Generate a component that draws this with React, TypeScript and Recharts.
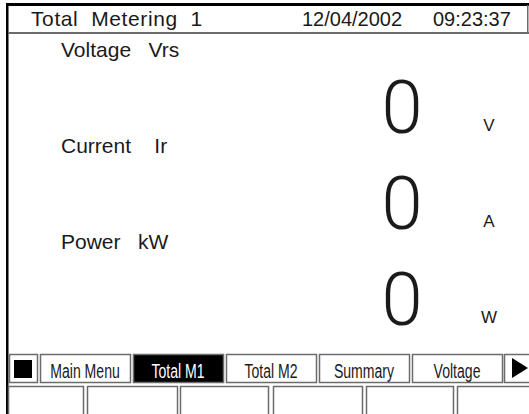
import { ComposedChart, Scatter, XAxis, YAxis } from 'recharts';

const screenTitle = 'Total  Metering  1';
const screenDate = '12/04/2002';
const screenTime = '09:23:37';

const readingNames = ['Voltage   Vrs', 'Current    Ir', 'Power   kW'];
const readingValues = [0, 0, 0];
const readingUnits = ['V', 'A', 'W'];

const menuLabels = ['Main Menu', 'Total M1', 'Total M2', 'Summary', 'Voltage'];
const activeMenu = 'Total M1';

const data = readingNames.map((name, i) => ({
  name,
  value: readingValues[i],
  unit: readingUnits[i],
}));

const W = 529;
const H = 414;
const FONT = '"Liberation Sans", Arial, sans-serif';
const LINE = '#6b6b6b';
const INK = '#1a1a1a';

// soft-key strip at the bottom of the LCD
const keyTop = 354;
const keyH = 28;
const key2Top = 386;
const keyX0 = 40;
const keyStep = 93;
const keyW = 90;
const blankEdges = [
  [8, 83],
  [87, 177],
  [180, 268],
  [273, 362],
  [366, 453],
  [457, 532],
];

// one row of the reading panel: name, big value, unit
function ReadingMark(props: any) {
  const { cy, payload } = props;
  if (cy == null || !payload) return null;
  return (
    <g fontFamily={FONT} fill={INK}>
      <text x={61} y={cy - 49} fontSize={21} style={{ whiteSpace: 'pre' }}>
        {payload.name}
      </text>
      <text
        x={402}
        y={cy + 27}
        textAnchor="middle"
        fontSize={74}
        fontFamily="Roboto, sans-serif"
        fontWeight={300}
      >
        {payload.value}
      </text>
      <text x={489} y={cy + 25} textAnchor="middle" fontSize={17}>
        {payload.unit}
      </text>
    </g>
  );
}

function KeyText({ cx, label, color }: { cx: number; label: string; color: string }) {
  return (
    <text
      transform={`translate(${cx},${keyTop + 24}) scale(0.67,1)`}
      textAnchor="middle"
      fontSize={21}
      fontFamily={FONT}
      fill={color}
    >
      {label}
    </text>
  );
}

export default function App() {
  return (
    <div style={{ position: 'absolute', left: 0, top: 0, background: '#fff' }}>
      <ComposedChart
        width={W}
        height={H}
        data={data}
        layout="vertical"
        margin={{ top: 106, right: 0, bottom: 116, left: 0 }}
      >
        <XAxis type="number" dataKey="value" domain={[0, 1]} hide />
        <YAxis type="category" dataKey="name" hide />
        <Scatter dataKey="value" shape={ReadingMark} isAnimationActive={false} />

        {/* frame */}
        <g>
          <rect x={6} y={3} width={W - 6} height={3} fill="#000" />
          <rect x={6} y={3} width={2.5} height={H - 3} fill="#000" />
          <rect x={8} y={32} width={W - 8} height={2} fill={LINE} />
          <rect x={W - 2} y={5} width={1.5} height={28} fill={LINE} />
        </g>

        {/* header */}
        <g fontFamily={FONT} fill={INK} fontSize={20}>
          <text x={31} y={26} fontSize={21} letterSpacing={0.6} style={{ whiteSpace: 'pre' }}>
            {screenTitle}
          </text>
          <text x={302} y={26}>{screenDate}</text>
          <text x={433} y={26}>{screenTime}</text>
        </g>

        {/* soft keys, row 1 */}
        <g>
          <rect x={9.5} y={keyTop + 0.5} width={28} height={keyH} fill="none" stroke={LINE} strokeWidth={1.5} />
          <rect x={14} y={360} width={18} height={18} fill="#000" />
          {menuLabels.map((label, i) => {
            const x = keyX0 + i * keyStep;
            const active = label === activeMenu;
            return (
              <g key={label}>
                <rect
                  x={x + 0.5}
                  y={keyTop + 0.5}
                  width={keyW}
                  height={keyH}
                  fill={active ? '#000' : '#fff'}
                  stroke={LINE}
                  strokeWidth={1.5}
                />
                <KeyText cx={x + keyW / 2} label={label} color={active ? '#fff' : INK} />
              </g>
            );
          })}
          <rect x={504.5} y={keyTop + 0.5} width={30} height={keyH} fill="none" stroke={LINE} strokeWidth={1.5} />
          <polygon points="512,358 528,368 512,378" fill="#000" />
        </g>

        {/* soft keys, row 2 */}
        <g>
          {blankEdges.map(([a, b]) => (
            <rect
              key={a}
              x={a + 0.5}
              y={key2Top + 0.5}
              width={b - a}
              height={40}
              fill="none"
              stroke={LINE}
              strokeWidth={1.5}
            />
          ))}
        </g>
      </ComposedChart>
    </div>
  );
}
